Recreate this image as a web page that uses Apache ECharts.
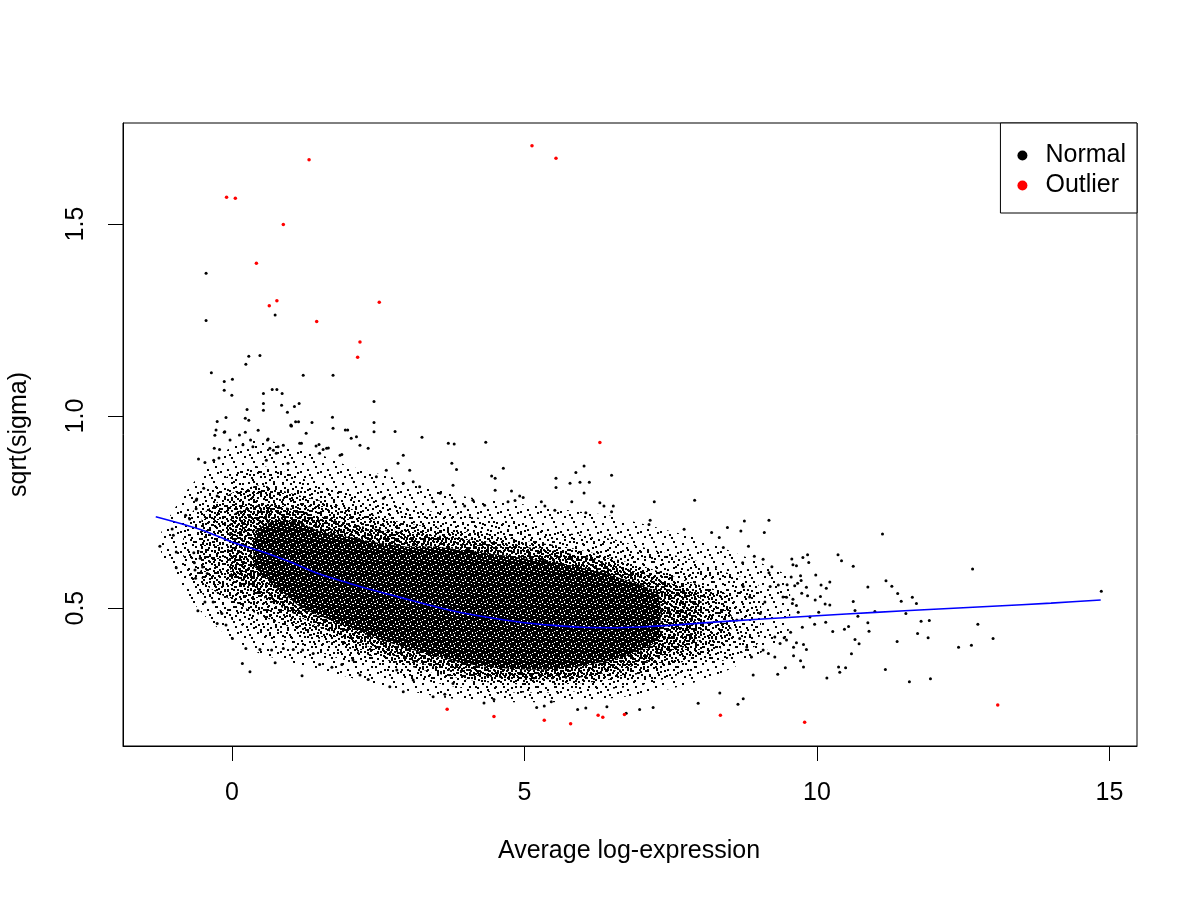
<!DOCTYPE html>
<html>
<head>
<meta charset="utf-8">
<script src="https://cdn.jsdelivr.net/npm/echarts@6/dist/echarts.min.js"></script>
<style>
  html, body { margin: 0; padding: 0; background: #fff; }
  #sa { width: 1200px; height: 900px; }
</style>
</head>
<body>
<div id="sa"></div>
<script>
// 坐标轴刻度
var xTicks = [0, 5, 10, 15];
var yTicks = [0.5, 1.0, 1.5];
var xMin = -1.86, xMax = 15.47;
var yMin = 0.141, yMax = 1.763;

// 趋势线 (x, sqrt(sigma))
var trendPts = [
    [-1.3, 0.738], [-0.5, 0.703], [0.0, 0.672], [0.5, 0.648], [1.0, 0.620], [1.5, 0.589],
    [2.0, 0.565], [2.5, 0.543], [3.0, 0.523], [3.5, 0.503], [4.0, 0.486], [4.5, 0.473],
    [5.0, 0.462], [5.5, 0.455], [6.0, 0.450], [6.5, 0.449], [7.0, 0.451], [7.5, 0.455],
    [8.0, 0.461], [9.0, 0.471], [10.0, 0.480], [11.0, 0.489], [12.0, 0.497], [13.0, 0.505],
    [14.0, 0.513], [14.85, 0.521]
];

// 点云密集区域, 由外到内: [x, 下沿, 上沿]
var band1 = [
    [-1.2, 0.64, 0.70], [-0.8, 0.54, 0.80], [-0.4, 0.47, 0.87], [0.0, 0.42, 0.92], [0.5, 0.38, 0.94],
    [1.0, 0.36, 0.92], [1.5, 0.34, 0.90], [2.0, 0.32, 0.87], [2.5, 0.30, 0.85], [3.0, 0.285, 0.83],
    [3.5, 0.27, 0.81], [4.0, 0.26, 0.79], [4.5, 0.255, 0.78], [5.0, 0.255, 0.77], [5.5, 0.255, 0.76],
    [6.0, 0.26, 0.75], [6.5, 0.265, 0.74], [7.0, 0.275, 0.72], [7.5, 0.29, 0.70], [8.0, 0.31, 0.68],
    [8.5, 0.34, 0.65], [9.0, 0.38, 0.62], [9.5, 0.43, 0.58]
];
var band2 = [
    [-0.8, 0.60, 0.72], [-0.4, 0.52, 0.80], [0.0, 0.47, 0.85], [0.5, 0.43, 0.87], [1.0, 0.41, 0.85],
    [1.5, 0.385, 0.82], [2.0, 0.36, 0.80], [2.5, 0.34, 0.78], [3.0, 0.32, 0.76], [3.5, 0.305, 0.75],
    [4.0, 0.29, 0.74], [4.5, 0.28, 0.73], [5.0, 0.28, 0.72], [5.5, 0.28, 0.70], [6.0, 0.285, 0.69],
    [6.5, 0.29, 0.68], [7.0, 0.30, 0.66], [7.5, 0.32, 0.64], [8.0, 0.34, 0.62], [8.5, 0.37, 0.59],
    [9.0, 0.41, 0.56]
];
var band3 = [
    [-0.5, 0.57, 0.74], [0.0, 0.52, 0.80], [0.5, 0.48, 0.82], [1.0, 0.45, 0.80], [1.5, 0.42, 0.78],
    [2.0, 0.395, 0.76], [2.5, 0.37, 0.74], [3.0, 0.35, 0.72], [3.5, 0.33, 0.71], [4.0, 0.315, 0.70],
    [4.5, 0.305, 0.69], [5.0, 0.30, 0.675], [5.5, 0.30, 0.665], [6.0, 0.305, 0.65], [6.5, 0.315, 0.63],
    [7.0, 0.33, 0.61], [7.5, 0.35, 0.585], [8.0, 0.375, 0.56], [8.5, 0.41, 0.53]
];
var band4 = [
    [0.0, 0.58, 0.74], [0.5, 0.53, 0.77], [1.0, 0.49, 0.76], [1.5, 0.45, 0.74], [2.0, 0.42, 0.72],
    [2.5, 0.39, 0.705], [3.0, 0.365, 0.695], [3.5, 0.345, 0.69], [4.0, 0.33, 0.68], [4.5, 0.32, 0.67],
    [5.0, 0.315, 0.66], [5.5, 0.315, 0.65], [6.0, 0.32, 0.635], [6.5, 0.335, 0.615], [7.0, 0.355, 0.59],
    [7.5, 0.385, 0.565], [8.0, 0.42, 0.535]
];
var coreBand = [
    [0.4, 0.61, 0.70], [0.8, 0.55, 0.73], [1.2, 0.50, 0.72], [1.5, 0.48, 0.70], [2.0, 0.45, 0.685],
    [2.5, 0.42, 0.67], [3.0, 0.395, 0.66], [3.5, 0.375, 0.66], [4.0, 0.355, 0.65], [4.5, 0.345, 0.64],
    [5.0, 0.34, 0.63], [5.5, 0.34, 0.62], [6.0, 0.35, 0.605], [6.5, 0.365, 0.585], [7.0, 0.39, 0.56],
    [7.3, 0.42, 0.535]
];

// 外围散点 (Normal)
var normalPts = [
    [-0.44, 1.372], [-0.44, 1.249], [0.74, 1.263], [0.29, 1.156], [0.48, 1.158], [0.24, 1.135],
    [-0.35, 1.113], [-0.13, 1.090], [0.01, 1.096], [-0.13, 1.067], [0.0, 1.054], [0.69, 1.069],
    [0.77, 1.069], [0.54, 1.059], [0.86, 1.059], [1.22, 1.106], [1.73, 1.106], [2.43, 1.038],
    [0.54, 1.033], [0.85, 1.028], [1.07, 1.025], [1.15, 1.033], [0.26, 1.017], [0.54, 1.015],
    [0.95, 1.010], [1.72, 0.997], [2.79, 0.960], [3.25, 0.945], [-0.10, 0.996], [0.23, 0.994],
    [0.29, 0.989], [-0.25, 0.986], [-0.27, 0.964], [-0.13, 0.958], [-0.29, 0.950], [0.13, 0.951],
    [0.23, 0.958], [0.45, 0.963], [1.01, 0.975], [1.09, 0.985], [1.14, 0.985], [1.37, 0.983],
    [1.27, 0.955], [1.94, 0.964], [2.04, 0.942], [2.43, 0.959], [2.43, 0.983], [-0.12, 0.959],
    [1.02, 0.974], [-0.57, 0.888], [-0.46, 0.879], [-0.31, 0.885], [-0.22, 0.891], [-0.30, 0.916],
    [-0.48, 0.812], [-0.25, 0.792], [-0.60, 0.784], [-0.03, 0.938], [0.32, 0.938], [0.19, 0.925],
    [0.36, 0.920], [0.62, 0.940], [0.65, 0.916], [0.71, 0.911], [0.79, 0.920], [0.88, 0.924],
    [1.19, 0.929], [1.44, 0.922], [1.49, 0.926], [1.56, 0.913], [1.65, 0.917], [1.88, 0.900],
    [-0.21, 0.913], [0.61, 0.938], [1.01, 0.977], [1.73, 0.968], [1.98, 0.964], [2.13, 0.946],
    [3.70, 0.929], [3.80, 0.927], [3.76, 0.877], [2.93, 0.898], [2.84, 0.877], [2.64, 0.859],
    [2.47, 0.842], [2.19, 0.924], [2.33, 0.916], [1.85, 0.898], [1.62, 0.916], [1.50, 0.903],
    [1.16, 0.929], [0.96, 0.877], [0.76, 0.903], [0.59, 0.885], [3.04, 0.859], [3.10, 0.829],
    [3.21, 0.816], [3.44, 0.777], [3.56, 0.799], [3.78, 0.820], [2.93, 0.825], [2.59, 0.786],
    [-1.23, 0.661], [-1.02, 0.706], [-1.00, 0.690], [-0.95, 0.646], [-0.95, 0.605], [-0.58, 0.493],
    [-0.72, 0.732], [-0.79, 0.742], [-0.61, 0.781], [-0.61, 0.759], [-0.65, 0.644], [-0.64, 0.618],
    [-0.63, 0.599], [-0.62, 0.578], [-0.54, 0.630], [-0.50, 0.607], [-0.42, 0.590], [-0.32, 0.516],
    [-0.25, 0.460], [-0.46, 0.516], [-0.17, 0.486], [-0.10, 0.456], [0.01, 0.421], [0.18, 0.356],
    [0.31, 0.334], [0.74, 0.358], [1.20, 0.324], [0.24, 0.395], [0.48, 0.392], [0.68, 0.391],
    [0.88, 0.395], [1.05, 0.392], [1.21, 0.391], [1.50, 0.353], [1.71, 0.346], [1.88, 0.353],
    [2.19, 0.326], [2.33, 0.314], [2.70, 0.295], [2.93, 0.282], [3.10, 0.313], [3.44, 0.269],
    [3.64, 0.276], [3.78, 0.304], [2.82, 0.339], [2.07, 0.365], [1.39, 0.382],
    [4.34, 0.932], [3.84, 0.861], [4.64, 0.864], [5.88, 0.853], [6.02, 0.870], [5.54, 0.838],
    [5.54, 0.814], [5.78, 0.825], [5.95, 0.828], [6.11, 0.828], [6.49, 0.846], [6.02, 0.800],
    [4.44, 0.844], [4.50, 0.838], [4.50, 0.807], [4.78, 0.805], [4.92, 0.792], [4.98, 0.788],
    [4.72, 0.777], [4.84, 0.780], [4.32, 0.768], [3.98, 0.766], [4.12, 0.781], [3.81, 0.777],
    [5.29, 0.777], [5.35, 0.766], [5.52, 0.755], [5.81, 0.777], [6.05, 0.748], [6.29, 0.774],
    [6.36, 0.766], [6.52, 0.766], [6.49, 0.751], [7.22, 0.777], [7.91, 0.781], [7.15, 0.729],
    [7.13, 0.718], [7.73, 0.705], [8.20, 0.697], [8.33, 0.684], [8.47, 0.710], [8.76, 0.727],
    [9.18, 0.729], [8.70, 0.701], [9.10, 0.697], [8.40, 0.658], [8.83, 0.661], [8.93, 0.635],
    [9.08, 0.627], [9.23, 0.608], [8.73, 0.618], [9.18, 0.592],
    [4.31, 0.253], [4.48, 0.262], [5.21, 0.241], [5.34, 0.245], [5.46, 0.256], [5.91, 0.236],
    [6.05, 0.240], [6.41, 0.243], [6.74, 0.226], [6.97, 0.236], [7.20, 0.241], [7.97, 0.252],
    [8.34, 0.279], [8.65, 0.250], [8.74, 0.264], [8.91, 0.326], [9.33, 0.328],
    [8.74, 0.556], [8.85, 0.529], [9.03, 0.486], [9.11, 0.516], [9.20, 0.556], [9.34, 0.560],
    [9.42, 0.529], [9.28, 0.425], [9.37, 0.408], [9.48, 0.417], [9.08, 0.391], [9.17, 0.382],
    [9.28, 0.373], [8.88, 0.373], [8.80, 0.399], [8.68, 0.421], [8.63, 0.469],
    [11.12, 0.693], [12.66, 0.602], [14.86, 0.544], [9.57, 0.628], [9.76, 0.632], [9.84, 0.639],
    [9.59, 0.613], [9.65, 0.610], [9.86, 0.619], [10.36, 0.639], [10.42, 0.623], [10.62, 0.609],
    [9.98, 0.586], [9.72, 0.584], [9.56, 0.581], [9.73, 0.572], [9.49, 0.561], [9.67, 0.565],
    [9.62, 0.558], [10.22, 0.568], [10.07, 0.560], [10.16, 0.552], [9.82, 0.554], [11.18, 0.571],
    [11.28, 0.557], [10.87, 0.555], [11.38, 0.538], [11.44, 0.518], [11.63, 0.528], [11.70, 0.512],
    [10.99, 0.491], [11.52, 0.486], [10.62, 0.517], [10.65, 0.494], [10.22, 0.508], [10.14, 0.511],
    [9.97, 0.521], [10.06, 0.530], [9.74, 0.539], [9.84, 0.532], [9.48, 0.528], [9.59, 0.523],
    [9.65, 0.507], [9.58, 0.512], [9.68, 0.489], [9.88, 0.477], [10.03, 0.489], [9.96, 0.458],
    [10.15, 0.463], [10.47, 0.445], [10.54, 0.452], [10.87, 0.462], [10.89, 0.440], [10.70, 0.479],
    [11.78, 0.466], [11.92, 0.468], [11.72, 0.434], [11.90, 0.423], [11.37, 0.413], [12.75, 0.458],
    [13.01, 0.421], [12.42, 0.398], [12.64, 0.403], [10.27, 0.439], [10.65, 0.418], [10.72, 0.407],
    [10.59, 0.381], [10.37, 0.347], [10.39, 0.333], [10.49, 0.345], [10.17, 0.318], [11.17, 0.340],
    [11.58, 0.308], [11.94, 0.316], [9.72, 0.363], [9.77, 0.347], [9.60, 0.376], [9.46, 0.345],
    [9.82, 0.392], [9.77, 0.405], [9.60, 0.398], [9.44, 0.423], [9.65, 0.410], [9.75, 0.450],
    [9.55, 0.437]
];

// 离群点 (Outlier)
var outlierPts = [
    [1.32, 1.667], [-0.09, 1.570], [0.06, 1.567], [0.88, 1.499], [0.42, 1.398], [0.64, 1.287],
    [0.77, 1.300], [2.52, 1.296], [1.45, 1.246], [2.19, 1.193], [2.15, 1.153], [5.13, 1.704],
    [5.54, 1.671], [6.29, 0.931], [4.48, 0.218], [5.34, 0.208], [5.79, 0.199], [6.26, 0.221],
    [6.34, 0.216], [6.71, 0.223], [8.35, 0.221], [3.68, 0.237], [9.79, 0.203], [13.09, 0.248]
];

var FONT = '"Liberation Sans", Arial, Helvetica, sans-serif';

// 点阵纹理, 表现密集的点; 各层叠加后越往里越密
function stipple(size, dots, bg, dotColor) {
    var c = document.createElement('canvas');
    c.width = size;
    c.height = size;
    var ctx = c.getContext('2d');
    if (bg) {
        ctx.fillStyle = bg;
        ctx.fillRect(0, 0, size, size);
    }
    ctx.fillStyle = dotColor || '#000';
    dots.forEach(function (d) {
        ctx.fillRect(d[0], d[1], d[2] || 2, d[3] || 2);
    });
    return { image: c, repeat: 'repeat' };
}

var fill1 = stipple(20, [[2, 3], [13, 1], [7, 9], [17, 12], [4, 16], [11, 17], [15, 6], [0, 11], [9, 14]]);
var fill2 = stipple(17, [[5, 0], [1, 7], [12, 11], [8, 14], [14, 3], [10, 6], [3, 12], [15, 15]]);
var fill3 = stipple(13, [[0, 1], [6, 0], [10, 3], [3, 4], [8, 7], [1, 9], [5, 11], [11, 10], [6, 5], [9, 12]]);
var fill4 = stipple(9, [[0, 0], [4, 1], [7, 3], [2, 4], [5, 6], [1, 7], [7, 7]]);
var fillCore = stipple(11, [
    [1, 1, 1, 1], [6, 3, 2, 1], [3, 7, 1, 2], [8, 8, 1, 1], [9, 0, 1, 1], [4, 4, 1, 1],
    [0, 9, 2, 1], [10, 5, 1, 2], [5, 10, 2, 1], [2, 5, 1, 1]
], '#000', '#fff');

function bandSeries(rows, fill, z) {
    return {
        type: 'custom',
        silent: true,
        z: z,
        clip: true,
        data: [[rows[0][0], rows[0][1]]],
        renderItem: function (params, api) {
            var top = rows.map(function (r) { return api.coord([r[0], r[2]]); });
            var bottom = rows.slice().reverse().map(function (r) { return api.coord([r[0], r[1]]); });
            return {
                type: 'polygon',
                shape: { points: top.concat(bottom), smooth: 0.2 },
                style: { fill: fill, stroke: null }
            };
        }
    };
}

var myChart = echarts.init(document.getElementById('sa'));

var axisLineStyle = { color: '#000', width: 1 };

var option = {
    animation: false,
    backgroundColor: '#fff',
    textStyle: { fontFamily: FONT, color: '#000' },
    grid: {
        left: 123, right: 63, top: 123, bottom: 154,
        show: true, borderColor: '#000', borderWidth: 1, backgroundColor: 'transparent'
    },
    legend: {
        data: ['Normal', 'Outlier'],
        orient: 'vertical',
        right: 63,
        top: 123,
        padding: [20, 11, 15, 17],
        itemGap: 5,
        itemWidth: 36,
        itemHeight: 10,
        icon: 'circle',
        backgroundColor: '#fff',
        borderColor: '#000',
        borderWidth: 1,
        borderRadius: 0,
        selectedMode: false,
        textStyle: { fontFamily: FONT, fontSize: 25, color: '#000', padding: 0 }
    },
    xAxis: {
        type: 'value',
        position: 'bottom',
        min: xMin,
        max: xMax,
        splitLine: { show: false },
        axisLine: { show: true, onZero: false, lineStyle: axisLineStyle },
        axisTick: { show: true, inside: false, customValues: xTicks, length: 15, lineStyle: axisLineStyle },
        axisLabel: {
            customValues: xTicks, margin: 35, fontSize: 25, color: '#000', fontFamily: FONT,
            formatter: function (v) { return String(v); }
        }
    },
    yAxis: {
        type: 'value',
        position: 'left',
        min: yMin,
        max: yMax,
        splitLine: { show: false },
        axisLine: { show: true, onZero: false, lineStyle: axisLineStyle },
        axisTick: { show: false },
        axisLabel: {
            customValues: yTicks, margin: 34, fontSize: 25, color: '#000', fontFamily: FONT, rotate: 90,
            formatter: function (v) { return v.toFixed(1); }
        }
    },
    graphic: [
        {
            id: 'xname', type: 'text', x: 629, y: 851,
            style: { text: 'Average log-expression', font: '25px ' + FONT, fill: '#000', textAlign: 'center', textVerticalAlign: 'middle' }
        },
        {
            id: 'yname', type: 'text', x: 19, y: 434.5, rotation: Math.PI / 2,
            style: { text: 'sqrt(sigma)', font: '25px ' + FONT, fill: '#000', textAlign: 'center', textVerticalAlign: 'middle' }
        }
    ],
    series: [
        bandSeries(band1, fill1, 1),
        bandSeries(band2, fill2, 2),
        bandSeries(band3, fill3, 3),
        bandSeries(band4, fill4, 4),
        bandSeries(coreBand, fillCore, 5),
        {
            name: 'Normal',
            type: 'scatter',
            z: 6,
            symbol: 'circle',
            symbolSize: 3,
            itemStyle: { color: '#000', opacity: 1 },
            data: normalPts
        },
        {
            name: 'Outlier',
            type: 'scatter',
            z: 7,
            symbol: 'circle',
            symbolSize: 3.5,
            itemStyle: { color: '#ff0000', opacity: 1 },
            data: outlierPts
        },
        {
            type: 'line',
            z: 8,
            smooth: 0.3,
            showSymbol: false,
            silent: true,
            lineStyle: { color: '#0000ff', width: 1.6 },
            data: trendPts
        }
    ]
};

myChart.setOption(option);

// y 轴刻度线: 用坐标换算得到位置, 画在框外左侧
var yTickMarks = yTicks.map(function (v, i) {
    var p = myChart.convertToPixel({ gridIndex: 0 }, [xMin, v]);
    var y = Math.round(p[1]) + 0.5;
    return {
        id: 'ytick' + i,
        type: 'line',
        z: 100,
        shape: { x1: p[0] - 15, y1: y, x2: p[0], y2: y },
        style: { stroke: '#000', lineWidth: 1 }
    };
});
myChart.setOption({ graphic: yTickMarks });
</script>
</body>
</html>
